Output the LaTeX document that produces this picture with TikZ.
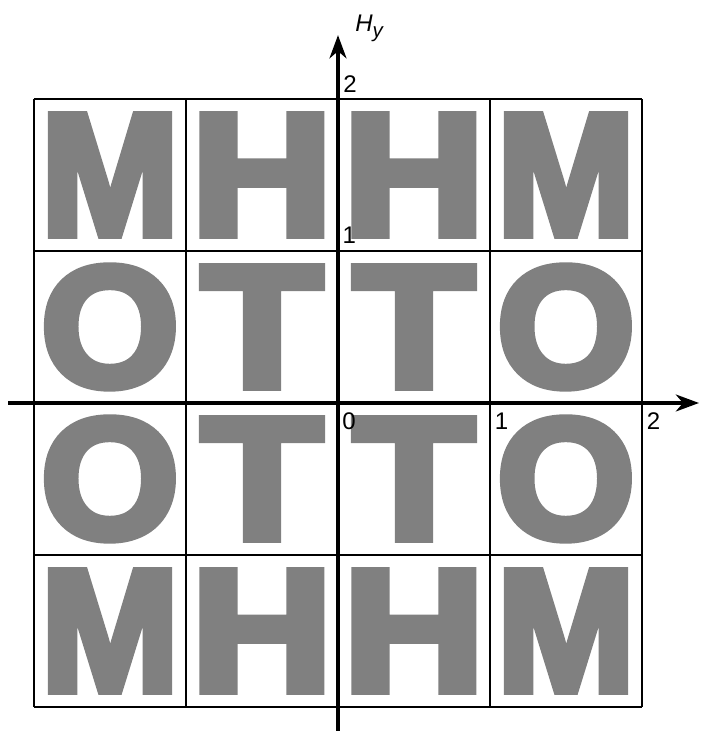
\documentclass[tikz,border=0pt]{standalone}
\usepackage{fontspec}
\setmainfont{Liberation Sans}
\newfontfamily\letterfont[FakeBold=5]{Liberation Sans Bold}
\usepackage{graphicx}
\usetikzlibrary{arrows.meta}
\definecolor{lettergray}{RGB}{128,128,128}
\newcommand{\bigletter}[3]{\resizebox{#2cm}{#3cm}{\letterfont #1}}

\begin{document}
\begin{tikzpicture}[x=3cm,y=3cm,
    cellgrid/.style={line width=1.1pt,step=3cm},
    axisline/.style={line width=2pt,-{Stealth[length=13pt,width=9.5pt,inset=4pt]}},
    letter/.style={inner sep=0pt,text=lettergray,line join=miter,miter limit=2},
    ticklabel/.style={inner sep=0pt,font=\fontsize{13.5}{15}\selectfont}]
\useasboundingbox (-2.2237,-2.1579) rectangle (2.3816,2.6513);
% letters, row by row
\foreach \r/\y/\outer/\inner/\wo/\wi in {1/1.5/M/H/2.73/2.79, 2/0.5/O/T/2.72/2.38,
    3/-0.5/O/T/2.72/2.38, 4/-1.5/M/H/2.73/2.79}{
  \node[letter] (L\r-1) at (-1.5,\y) {\bigletter{\outer}{\wo}{2.35}};
  \node[letter] (L\r-2) at (-0.5,\y) {\bigletter{\inner}{\wi}{2.35}};
  \node[letter] (L\r-3) at (0.5,\y) {\bigletter{\inner}{\wi}{2.35}};
  \node[letter] (L\r-4) at (1.5,\y) {\bigletter{\outer}{\wo}{2.35}};
}
% grid of cells
\draw[cellgrid] (-2,-2) grid (2,2);
% axes
\coordinate (xstart) at (-2.17,0);
\coordinate (xend) at (2.375,0);
\coordinate (ystart) at (0,-2.16);
\coordinate (yend) at (0,2.42);
\draw[axisline] (xstart) -- (xend);
\draw[axisline] (ystart) -- (yend);
% tick labels
\node[ticklabel,anchor=north west] (x0) at ([xshift=2.2pt,yshift=-5.4pt]0,0) {0};
\node[ticklabel,anchor=north west] (x1) at ([xshift=2.6pt,yshift=-5.4pt]1,0) {1};
\node[ticklabel,anchor=north west] (x2) at ([xshift=2.6pt,yshift=-5.4pt]2,0) {2};
\node[ticklabel,anchor=south west] (y1) at ([xshift=2.4pt,yshift=4pt]0,1) {1};
\node[ticklabel,anchor=south west] (y2) at ([xshift=2.8pt,yshift=3.6pt]0,2) {2};
\node[anchor=base west,inner sep=0pt,font=\fontsize{13.5}{16}\selectfont] (hy) at (0.112,2.443)
  {\itshape H\raisebox{-0.45ex}{\fontsize{11.5}{12}\selectfont y}};
\end{tikzpicture}
\end{document}
